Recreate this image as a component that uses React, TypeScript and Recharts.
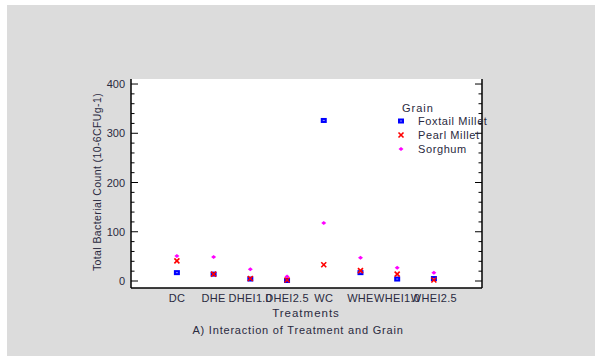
import React from 'react';
import { ScatterChart, Scatter, XAxis, YAxis, CartesianGrid } from 'recharts';

const categories = ['DC', 'DHE', 'DHEI1.0', 'DHEI2.5', 'WC', 'WHE', 'WHEI1.0', 'WHEI2.5'];
const foxtailMillet = [17, 14, 4, 1, 326, 17, 4, 5];
const pearlMillet = [41, 14, 5, 2, 33, 21, 14, 2];
const sorghum = [51, 49, 24, 9, 118, 47, 27, 17];
const yTicks = [0, 20, 40, 60, 80, 100, 120, 140, 160, 180, 200, 220, 240, 260, 280, 300, 320, 340, 360, 380, 400];
const xTicks = [0, 1, 2, 3, 4, 5, 6, 7];

const FONT = '"Liberation Sans", Arial, sans-serif';
const TEXT = '#2a2a40';

const toPoints = (vals: number[]) => vals.map((v, i) => ({ x: i, y: v }));

const SquareShape = (p: any) => (
  <g>
    <rect x={p.cx - 3} y={p.cy - 2.5} width={6} height={5} fill="#0000ff" />
    <rect x={p.cx - 1} y={p.cy - 0.5} width={2} height={1} fill="#8a8aff" />
  </g>
);
const CrossShape = (p: any) => (
  <g stroke="#ff0000" strokeWidth={1.6}>
    <line x1={p.cx - 2.5} y1={p.cy - 2.5} x2={p.cx + 2.5} y2={p.cy + 2.5} />
    <line x1={p.cx - 2.5} y1={p.cy + 2.5} x2={p.cx + 2.5} y2={p.cy - 2.5} />
  </g>
);
const DotShape = (p: any) => (
  <path d={`M${p.cx - 2.5},${p.cy} L${p.cx},${p.cy - 2} L${p.cx + 2.5},${p.cy} L${p.cx},${p.cy + 2} Z`} fill="#ff00ff" />
);

const LeftTick = (p: any) => {
  const v = p.payload.value;
  const major = v % 100 === 0;
  const ax = p.x + 4;
  return (
    <g>
      <line x1={ax} x2={ax + (major ? 7 : 3.5)} y1={p.y} y2={p.y} stroke="#000" strokeWidth={1} />
      {major && (
        <text x={ax - 6} y={p.y} dy={4} textAnchor="end" fontSize={11} fontFamily={FONT} fill={TEXT}>
          {v}
        </text>
      )}
    </g>
  );
};
const RightTick = (p: any) => {
  const v = p.payload.value;
  const major = v % 100 === 0;
  const ax = p.x - 4;
  return <line x1={ax} x2={ax - (major ? 7 : 3.5)} y1={p.y} y2={p.y} stroke="#000" strokeWidth={1} />;
};

const LegendSymbol = ({ kind }: { kind: string }) => (
  <svg width={10} height={10} style={{ position: 'absolute', left: -5, top: -5 }}>
    {kind === 'sq' && <SquareShape cx={5} cy={5} />}
    {kind === 'x' && <CrossShape cx={5} cy={5} />}
    {kind === 'd' && <DotShape cx={5} cy={5} />}
  </svg>
);

const legendItems = [
  { name: 'Foxtail Millet', kind: 'sq' },
  { name: 'Pearl Millet', kind: 'x' },
  { name: 'Sorghum', kind: 'd' },
];

export default function App() {
  return (
    <div style={{ position: 'absolute', left: 0, top: 0, width: 595, height: 356, background: '#fff', overflow: 'hidden' }}>
      <div style={{ position: 'absolute', left: 7, top: 5, width: 588, height: 351, background: '#dcdcdc' }}>
        <ScatterChart width={588} height={351} margin={{ top: 74, right: 103, bottom: 38, left: 84 }}>
          <CartesianGrid horizontal={false} vertical={false} fill="#ffffff" />
          <XAxis
            xAxisId="b"
            type="number"
            dataKey="x"
            domain={[-1.25, 8.31]}
            ticks={xTicks}
            interval={0}
            allowDataOverflow
            height={30}
            tickLine={false}
            tickSize={0}
            tickMargin={6}
            axisLine={{ stroke: '#000', strokeWidth: 1.5 }}
            tickFormatter={(v: number) => categories[v] ?? ''}
            tick={{ fontSize: 11, fontFamily: FONT, fill: TEXT, letterSpacing: 0.3 }}
          />
          <XAxis xAxisId="t" orientation="top" type="number" domain={[-1.25, 8.31]} height={0} tick={false} tickLine={false} axisLine={{ stroke: '#000', strokeWidth: 1.5 }} />
          <YAxis
            yAxisId="l"
            type="number"
            dataKey="y"
            domain={[-14.2, 410.2]}
            allowDataOverflow
            ticks={yTicks}
            interval={0}
            width={40}
            tickSize={0}
            tickMargin={4}
            tickLine={false}
            axisLine={{ stroke: '#000', strokeWidth: 1.5 }}
            tick={LeftTick}
          />
          <YAxis
            yAxisId="r"
            orientation="right"
            type="number"
            domain={[-14.2, 410.2]}
            allowDataOverflow
            ticks={yTicks}
            interval={0}
            width={10}
            tickSize={0}
            tickMargin={4}
            tickLine={false}
            axisLine={{ stroke: '#000', strokeWidth: 1.5 }}
            tick={RightTick}
          />
          <Scatter xAxisId="b" yAxisId="l" name="Sorghum" data={toPoints(sorghum)} shape={DotShape} isAnimationActive={false} />
          <Scatter xAxisId="b" yAxisId="l" name="Foxtail Millet" data={toPoints(foxtailMillet)} shape={SquareShape} isAnimationActive={false} />
          <Scatter xAxisId="b" yAxisId="l" name="Pearl Millet" data={toPoints(pearlMillet)} shape={CrossShape} isAnimationActive={false} />
        </ScatterChart>
      </div>
      <div
        style={{
          position: 'absolute', left: 97, top: 182, transform: 'translate(-50%, -50%) rotate(-90deg)',
          whiteSpace: 'nowrap', fontFamily: FONT, fontSize: 10.5, color: TEXT, letterSpacing: 0.4,
        }}
      >
        Total Bacterial Count (10-6CFUg-1)
      </div>
      <div style={{ position: 'absolute', left: 306, top: 313, transform: 'translate(-50%, -50%)', whiteSpace: 'nowrap', fontFamily: FONT, fontSize: 11.5, color: TEXT, letterSpacing: 1 }}>
        Treatments
      </div>
      <div style={{ position: 'absolute', left: 298, top: 330, transform: 'translate(-50%, -50%)', whiteSpace: 'nowrap', fontFamily: FONT, fontSize: 11, color: TEXT, letterSpacing: 0.8 }}>
        A) Interaction of Treatment and Grain
      </div>
      <div style={{ position: 'absolute', left: 402, top: 101, fontFamily: FONT, fontSize: 11, color: TEXT, letterSpacing: 1, lineHeight: '14px' }}>
        Grain
      </div>
      {legendItems.map((it, i) => (
        <div key={it.name} style={{ position: 'absolute', left: 401, top: 121 + i * 14 }}>
          <LegendSymbol kind={it.kind} />
          <div style={{ position: 'absolute', left: 17, top: -7, whiteSpace: 'nowrap', fontFamily: FONT, fontSize: 11, color: TEXT, letterSpacing: 0.6, lineHeight: '14px' }}>
            {it.name}
          </div>
        </div>
      ))}
    </div>
  );
}
